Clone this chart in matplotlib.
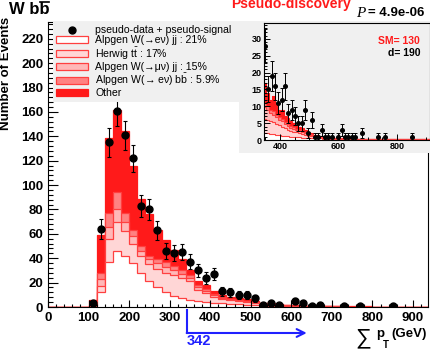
import matplotlib
matplotlib.use('Agg')
import matplotlib.pyplot as plt
import numpy as np
from matplotlib.lines import Line2D
from matplotlib.patches import Patch, Rectangle
from matplotlib.ticker import MultipleLocator

plt.rcParams['font.family'] = ['Liberation Sans', 'DejaVu Sans']
plt.rcParams['mathtext.fontset'] = 'custom'
plt.rcParams['mathtext.rm'] = 'Liberation Sans'
plt.rcParams['mathtext.bf'] = 'Liberation Sans:bold'
plt.rcParams['mathtext.it'] = 'Liberation Sans:italic'

# ---- main plot: 20 GeV bins, 0 - 940 GeV
edges = np.arange(0, 960, 20)

w_enu_jj = [0, 0, 0, 0, 0,
            0.5, 12, 37, 46, 42, 36, 28, 21, 16, 12, 9, 7, 6, 5, 4.4, 3.6, 3, 2.5, 2.2, 1.9,
            1.6, 1.3, 1.1, 0.9, 0.8, 0.7, 0.6, 0.5, 0.45, 0.4,
            0.35, 0.3, 0.3, 0.25, 0.25, 0.2, 0.2, 0.2, 0.15, 0.15, 0.1, 0.1]
ttbar = [0, 0, 0, 0, 0,
         0.3, 5, 19, 24, 20, 16, 14, 14, 15, 16, 17, 17, 15, 9, 7, 5, 3.5, 3, 2.6, 2.1,
         1.4, 0.9, 0.7, 0.6, 0.3, 0.2, 0.1, 0.1, 0.05, 0.05,
         0.05, 0.05, 0.05, 0.05, 0.05, 0.05, 0.05, 0.05, 0.05, 0.05, 0.05, 0.05]
w_munu_jj = [0, 0, 0, 0, 0,
             0.3, 6, 10, 10, 8, 6, 4, 4, 5, 5, 4, 3, 3, 2, 1.5, 1, 0.8, 0.7, 0.6, 0.6,
             0.5, 0.4, 0.3, 0.3, 0.2, 0.1, 0.1, 0.05, 0.05, 0.05,
             0.03, 0.03, 0.03, 0.03, 0.03, 0.03, 0.03, 0.03, 0.03, 0.03, 0.03, 0.03]
w_enu_bb = [0, 0, 0, 0, 0,
            0.4, 5, 11, 14, 7, 5, 4, 3, 3, 4, 4, 3, 2, 2, 1.5, 1, 0.7, 0.6, 0.6, 0.6,
            0.5, 0.4, 0.4, 0.3, 0.2, 0.2, 0.1, 0.1, 0.1, 0.05,
            0.03, 0.03, 0.03, 0.03, 0.03, 0.03, 0.03, 0.03, 0.03, 0.03, 0.03, 0.03]
other = [0, 0, 0, 0, 0,
         4.2, 31, 62, 68, 67, 53, 39, 34, 24, 18, 13, 9, 4, 3, 3.6, 2.4, 2, 1.7, 1.5, 1.3,
         1.0, 0.5, 0.5, 0.4, 0.3, 0.2, 0.2, 0.15, 0.15, 0.05,
         0.1, 0.1, 0.1, 0.1, 0.08, 0.08, 0.08, 0.08, 0.06, 0.06, 0.06, 0.06]

data_x = [110, 130, 150, 170, 190, 210, 230, 250, 270, 290, 310, 330, 350, 370, 390, 410,
          430, 450, 470, 490, 510, 530, 550, 570, 610, 630, 650, 670, 730, 770, 850]
data_n = [3, 64, 135, 161, 141, 122, 83, 80, 63, 46, 44, 45, 37, 30, 24, 27,
          13, 12, 10, 10, 7, 2, 3, 2, 5, 3, 1, 2, 1, 1, 1]

main_xticks = [0, 100, 200, 300, 400, 500, 600, 700, 800, 900]
main_yticks = [0, 20, 40, 60, 80, 100, 120, 140, 160, 180, 200, 220]

# ---- inset: 10 GeV bins above the 342 GeV cut, last bin is the tail
in_edges = np.append(np.arange(342, 662, 10), 942)
in_w = [2.2, 2.0, 1.8, 1.7, 1.5, 1.4, 1.3, 1.2, 1.1, 1.0, 0.9, 0.9, 0.8, 0.7, 0.7, 0.6,
        0.6, 0.5, 0.5, 0.45, 0.4, 0.4, 0.35, 0.35, 0.3, 0.3, 0.3, 0.25, 0.25, 0.25, 0.2, 0.12]
in_t = [4, 4, 3.7, 3.5, 3.2, 3, 2.7, 2.3, 2, 1.8, 1.6, 1.4, 1.2, 1.1, 0.9, 0.7,
        0.5, 0.4, 0.3, 0.25, 0.2, 0.15, 0.1, 0.1, 0.1, 0.05, 0.05, 0.05, 0.05, 0.05, 0.05, 0.03]
in_m = [3.5, 3, 2.5, 2.3, 2, 1.6, 1.5, 1.2, 1, 0.9, 0.8, 0.7, 0.6, 0.5, 0.5, 0.4,
        0.3, 0.2, 0.2, 0.15, 0.1, 0.1, 0.1, 0.05, 0.05, 0.05, 0.05, 0.05, 0.05, 0.05, 0.05, 0.02]
in_b = [1.3, 1, 1, 1, 0.8, 0.8, 0.7, 0.6, 0.6, 0.5, 0.5, 0.4, 0.4, 0.4, 0.3, 0.3,
        0.3, 0.2, 0.2, 0.15, 0.1, 0.1, 0.1, 0.1, 0.05, 0.05, 0.05, 0.05, 0.05, 0.05, 0.05, 0.02]
in_o = [6, 4, 3, 4.5, 3.5, 2.2, 2.8, 1.7, 1.8, 1.3, 1.2, 1.1, 1, 0.8, 0.6, 0.5,
        0.3, 0.3, 0.2, 0.2, 0.2, 0.15, 0.15, 0.1, 0.1, 0.1, 0.1, 0.1, 0.1, 0.1, 0.1, 0.1]

inset_x = [349, 360, 371, 383, 394, 406, 417, 428, 440, 451, 463, 474, 485, 497, 508, 520,
           531, 542, 554, 565, 577, 599, 611, 622, 633, 645, 656, 679, 736, 759, 850]
inset_n = [28, 15, 19, 16, 11, 12, 16, 8, 9, 7, 5, 5, 9, 2, 6, 1,
           1, 3, 1, 1, 1, 1, 3, 1, 1, 1, 1, 2, 1, 1, 1]

labels = ['pseudo-data + pseudo-signal',
          'Alpgen W(→eν) jj : 21%',
          r'Herwig t$\bar{\mathrm{t}}$ : 17%',
          'Alpgen W(→μν) jj : 15%',
          r'Alpgen W(→ eν) b$\bar{\mathrm{b}}$ : 5.9%',
          'Other']
fills = ['white', '#ffd6d6', '#ffb8b8', '#ff8282', '#ff1a1a']
line_col = '#ff4040'

W, H = 430, 349


def fx(px):
    return px / W


def fy(py):
    return 1 - py / H


def draw_stack(a, e, layers, lw):
    tops = np.cumsum(np.array(layers, dtype=float), axis=0)
    for i in range(len(layers) - 1, -1, -1):
        a.stairs(tops[i], e, baseline=0, fill=True, color=fills[i], lw=0)
        ec = fills[i] if i == len(layers) - 1 else line_col
        a.stairs(tops[i], e, baseline=None, color=ec, lw=lw)


fig = plt.figure(figsize=(W / 100, H / 100), dpi=100)
ax = fig.add_axes([fx(48), fy(307), fx(428) - fx(48), (307 - 22) / H])

draw_stack(ax, edges, [w_enu_jj, ttbar, w_munu_jj, w_enu_bb, other], 0.9)
ax.errorbar(data_x, data_n, yerr=np.sqrt(data_n), fmt='o', ms=5, color='black',
            elinewidth=0.8, capsize=1.3, capthick=0.8, zorder=5)

ax.set_xlim(0, 937)
ax.set_ylim(0, 233.8)
ax.set_xticks(main_xticks, labels=[str(v) for v in main_xticks], fontweight='bold', fontsize=9.5)
ax.set_yticks(main_yticks, labels=[str(v) for v in main_yticks], fontweight='bold', fontsize=9.5)
ax.xaxis.set_minor_locator(MultipleLocator(20))
ax.yaxis.set_minor_locator(MultipleLocator(4))
ax.tick_params(axis='x', which='major', direction='in', length=5, width=0.8, pad=3.5)
ax.tick_params(axis='x', which='minor', direction='in', length=2.5, width=0.8)
ax.tick_params(axis='y', which='major', direction='in', length=7, width=0.8, pad=3.5)
ax.tick_params(axis='y', which='minor', direction='in', length=3.5, width=0.8)
for s in ax.spines.values():
    s.set_linewidth(0.8)

handles = [Line2D([], [], marker='o', ls='none', color='black', ms=5)]
for i in range(5):
    ec = fills[i] if i == 4 else line_col
    handles.append(Patch(facecolor=fills[i], edgecolor=ec, lw=0.9))
leg = ax.legend(handles, labels, loc='upper left', bbox_to_anchor=(0.013, 0.5, 0.492, 0.5),
                mode='expand', fontsize=7.6, frameon=True, facecolor='#f0f0f0', edgecolor='none',
                framealpha=1, fancybox=False, borderaxespad=0, borderpad=0.3,
                labelspacing=0.02, handlelength=3.0, handleheight=0.65, handletextpad=0.7)
leg.set_zorder(6)

# cut arrow
cut = 342
arrow_end = 638
xt = ax.get_xaxis_transform()
ax.plot([cut, cut], [-0.0105, -0.0912], transform=xt, clip_on=False, color='#2020ff', lw=1.5)
ax.annotate('', xy=(arrow_end, -0.0912), xytext=(cut, -0.0912), xycoords=xt,
            arrowprops=dict(arrowstyle='->', color='#2020ff', lw=1.5, mutation_scale=14,
                            shrinkA=0, shrinkB=0), annotation_clip=False)
ax.text(cut, -0.121, str(cut), transform=xt, color='#2020ff', fontweight='bold',
        fontsize=10.5, ha='left', va='center', clip_on=False)

# titles and axis labels
fig.text(fx(9), fy(9), 'W bb', fontweight='bold', fontsize=12, ha='left', va='center')
fig.add_artist(Line2D([fx(39.5), fx(49)], [fy(1.5), fy(1.5)], color='black', lw=1.2))
fig.text(fx(6), fy(17), 'Number of Events', rotation=90, fontweight='bold', fontsize=9.5,
         ha='center', va='top')
fig.text(fx(363), fy(338), '∑', fontsize=16, ha='center', va='center')
fig.text(fx(380), fy(334), 'p', fontweight='bold', fontsize=9.5, ha='center', va='center')
fig.text(fx(386), fy(345), 'T', fontweight='bold', fontsize=7, ha='center', va='center')
fig.text(fx(427), fy(334.5), '(GeV)', fontweight='bold', fontsize=9.5, ha='right', va='center')

# inset pad
pad = Rectangle((fx(239), fy(153)), fx(430) - fx(239), (153 - 21) / H,
                transform=fig.transFigure, facecolor='#f0f0f0', edgecolor='none', zorder=1)
fig.add_artist(pad)

axin = fig.add_axes([fx(264), fy(140), fx(430) - fx(264), (140 - 22.7) / H], zorder=3)
axin.set_facecolor('#f0f0f0')
draw_stack(axin, in_edges, [in_w, in_t, in_m, in_b, in_o], 0.8)
axin.errorbar(inset_x, inset_n, yerr=np.sqrt(inset_n), fmt='o', ms=2.6, color='black',
              elinewidth=0.7, capsize=1.2, capthick=0.7, zorder=5)
axin.set_xlim(345, 913)
axin.set_ylim(0, 34.8)
axin.set_xticks([400, 600, 800], labels=['400', '600', '800'], fontweight='bold', fontsize=6.5)
axin.set_yticks([0, 5, 10, 15, 20, 25, 30], labels=['0', '5', '10', '15', '20', '25', '30'],
                fontweight='bold', fontsize=6.5)
axin.xaxis.set_minor_locator(MultipleLocator(50))
axin.yaxis.set_minor_locator(MultipleLocator(1))
axin.tick_params(which='major', direction='in', length=4, width=0.7, pad=1.5)
axin.tick_params(which='minor', direction='in', length=2, width=0.7)
for s in axin.spines.values():
    s.set_linewidth(0.8)

fig.text(fx(420), fy(41), 'SM= 130', color='#ff1a1a', fontweight='bold', fontsize=7.5,
         ha='right', va='center', zorder=5)
fig.text(fx(420), fy(52.5), 'd= 190', color='black', fontweight='bold', fontsize=7.5,
         ha='right', va='center', zorder=5)

fig.text(fx(291), fy(4), 'Pseudo-discovery', color='#ff1a1a', fontweight='bold', fontsize=10,
         ha='center', va='center')
ptxt = fig.text(fx(356), fy(13.5), 'P', family='Liberation Serif', style='italic', fontsize=11,
                ha='left', va='center')
fig.text(fx(424), fy(13.5), '= 4.9e-06', fontweight='bold', fontsize=9.5,
         ha='right', va='center')

fig.savefig('out.png', dpi=100)
